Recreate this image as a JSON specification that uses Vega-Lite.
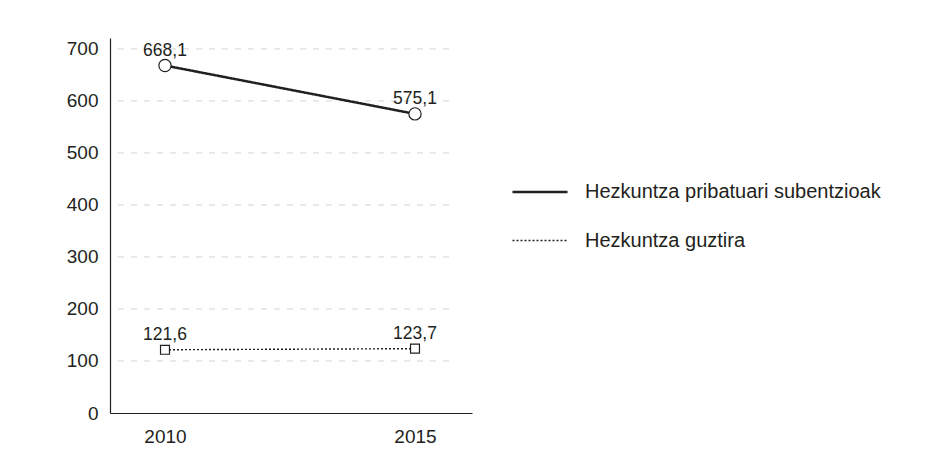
{
  "$schema": "https://vega.github.io/schema/vega-lite/v6.json",
  "width": 362,
  "height": 375,
  "autosize": {"type": "none"},
  "padding": {"left": 110, "top": 38, "right": 467, "bottom": 44},
  "background": "white",
  "config": {
    "font": "Liberation Sans",
    "view": {"stroke": null},
    "locale": {"number": {"decimal": ",", "thousands": ".", "grouping": [3], "currency": ["", " €"]}}
  },
  "data": {
    "values": [
      {"series": "Hezkuntza pribatuari subentzioak", "year": 2010, "value": 668.1},
      {"series": "Hezkuntza pribatuari subentzioak", "year": 2015, "value": 575.1},
      {"series": "Hezkuntza guztira", "year": 2010, "value": 121.6},
      {"series": "Hezkuntza guztira", "year": 2015, "value": 123.7}
    ]
  },
  "layer": [
    {
      "data": {"values": [{"t": 100}, {"t": 200}, {"t": 300}, {"t": 400}, {"t": 500}, {"t": 600}, {"t": 700}]},
      "mark": {"type": "rule", "stroke": "#d4d4d4", "strokeWidth": 1, "strokeDash": [6, 7]},
      "encoding": {
        "y": {"field": "t", "type": "quantitative", "scale": {"domain": [0, 721], "nice": false}},
        "x": {"datum": 2009.06, "type": "quantitative"},
        "x2": {"datum": 2015.7}
      }
    },
    {
      "mark": {"type": "line", "color": "#231f20"},
      "encoding": {
        "x": {
          "field": "year", "type": "quantitative",
          "scale": {"domain": [2008.9, 2016.14], "nice": false, "zero": false},
          "axis": {
            "title": null, "values": [2010, 2015], "format": "d", "grid": false,
            "domainColor": "#231f20", "domainWidth": 1.2, "ticks": false,
            "labelFontSize": 19, "labelColor": "#231f20", "labelPadding": 14
          }
        },
        "y": {
          "field": "value", "type": "quantitative",
          "scale": {"domain": [0, 721], "nice": false},
          "axis": {
            "title": null, "values": [0, 100, 200, 300, 400, 500, 600, 700], "grid": false,
            "domainColor": "#231f20", "domainWidth": 1.2, "ticks": false,
            "labelFontSize": 19, "labelColor": "#231f20", "labelPadding": 12
          }
        },
        "strokeDash": {
          "field": "series", "type": "nominal",
          "scale": {"domain": ["Hezkuntza pribatuari subentzioak", "Hezkuntza guztira"], "range": [[1, 0], [2, 2]]},
          "legend": {
            "title": null, "orient": "none", "legendX": 401, "legendY": 125,
            "symbolType": "stroke", "symbolSize": 3025, "symbolStrokeColor": "#231f20",
            "labelFontSize": 20, "labelColor": "#231f20", "labelOffset": 16, "labelLimit": 400,
            "rowPadding": 10, "padding": 0
          }
        },
        "strokeWidth": {
          "field": "series", "type": "nominal",
          "scale": {"domain": ["Hezkuntza pribatuari subentzioak", "Hezkuntza guztira"], "range": [2.5, 1.4]},
          "legend": {
            "title": null, "orient": "none", "legendX": 401, "legendY": 125,
            "symbolType": "stroke", "symbolSize": 3025, "symbolStrokeColor": "#231f20",
            "labelFontSize": 20, "labelColor": "#231f20", "labelOffset": 16, "labelLimit": 400,
            "rowPadding": 10, "padding": 0
          }
        }
      }
    },
    {
      "transform": [{"filter": "datum.series === 'Hezkuntza pribatuari subentzioak'"}],
      "mark": {"type": "point", "shape": "circle", "size": 150, "filled": true, "fill": "white", "stroke": "#231f20", "strokeWidth": 1.2, "opacity": 1},
      "encoding": {
        "x": {"field": "year", "type": "quantitative"},
        "y": {"field": "value", "type": "quantitative"}
      }
    },
    {
      "transform": [{"filter": "datum.series === 'Hezkuntza guztira'"}],
      "mark": {"type": "point", "shape": "square", "size": 80, "filled": true, "fill": "white", "stroke": "#231f20", "strokeWidth": 1.2, "opacity": 1},
      "encoding": {
        "x": {"field": "year", "type": "quantitative"},
        "y": {"field": "value", "type": "quantitative"}
      }
    },
    {
      "mark": {"type": "text", "baseline": "alphabetic", "dy": -10, "fontSize": 17.5, "color": "#231f20"},
      "encoding": {
        "x": {"field": "year", "type": "quantitative"},
        "y": {"field": "value", "type": "quantitative"},
        "text": {"field": "value", "type": "quantitative", "format": ".1f"}
      }
    }
  ]
}
